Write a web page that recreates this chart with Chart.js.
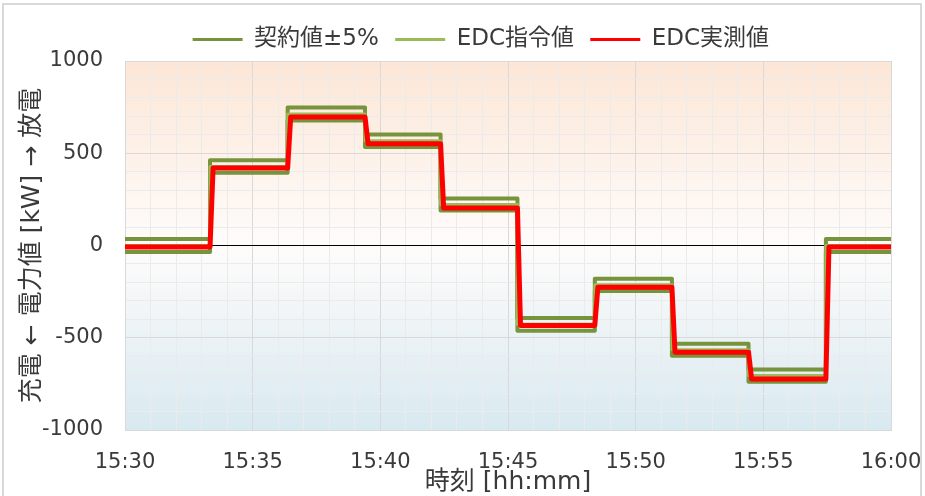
<!DOCTYPE html>
<html><head><meta charset="utf-8">
<script src="https://cdn.jsdelivr.net/npm/chart.js@4.4.0/dist/chart.umd.min.js"></script>
<style>html,body{margin:0;padding:0;background:#fff;} #wrap{width:925px;height:496px;position:relative;}</style>
</head><body><div id="wrap"><canvas id="c" width="925" height="496"></canvas></div>
<script>
// minutes after 15:30 at which each setpoint segment starts
const stepTimes = [0, 3.33, 6.37, 9.40, 12.36, 15.37, 18.40, 21.42, 24.42, 27.45];
const endTime = 30;
const commandValues  = [0, 428, 713, 568, 222, -427, -213, -565, -705, 0];
const contractUpper  = [35, 462, 748, 602, 255, -393, -180, -532, -672, 35];
const contractLower  = [-35, 394, 678, 534, 190, -462, -246, -598, -738, -35];
const measuredValues = [-8, 420, 697, 551, 203, -433, -226, -578, -724, -8];
const xTickLabels = ['15:30','15:35','15:40','15:45','15:50','15:55','16:00'];
const yTickLabels = ['-1000','-500','0','500','1000'];
const seriesNames = ['契約値±5%', 'EDC指令値', 'EDC実測値'];

const FONT = "'DejaVu Sans', 'Noto Sans CJK JP', sans-serif";
const TXT = '#3a3a3a';
const gridMinor = '#ebebeb', gridMajor = '#d9d9d9';

function stepPoints(vals){
  const pts = stepTimes.map((t,i)=>({x:t, y:vals[i]}));
  pts.push({x:endTime, y:vals[vals.length-1]});
  return pts;
}
function rampPoints(vals, ramp){
  const pts = [];
  vals.forEach((v,i)=>{
    const s = i===0 ? stepTimes[0] : stepTimes[i] + ramp;
    const e = i+1 < stepTimes.length ? stepTimes[i+1] : endTime;
    pts.push({x:s, y:v}); pts.push({x:e, y:v});
  });
  return pts;
}

const bgPlugin = {
  id:'bg',
  afterLayout(chart){
    if (chart.legend) { chart.legend.left += 18; chart.legend.right += 18; }
  },
  beforeDraw(chart){
    const {ctx, chartArea:a} = chart;
    ctx.save();
    ctx.fillStyle = '#fff'; ctx.fillRect(0,0,chart.width,chart.height);
    const g = ctx.createLinearGradient(0, a.top, 0, a.bottom);
    g.addColorStop(0, '#fce6d6'); g.addColorStop(0.5, '#fefcfb'); g.addColorStop(1, '#d8e9f0');
    ctx.fillStyle = g; ctx.fillRect(a.left, a.top, a.right-a.left, a.bottom-a.top);
    ctx.restore();
  },
  afterDraw(chart){
    const ctx = chart.ctx;
    ctx.save(); ctx.strokeStyle = '#d9d9d9'; ctx.lineWidth = 2;
    ctx.strokeRect(3, 4, 918, 520); ctx.restore();
  }
};

new Chart(document.getElementById('c'), {
  type:'line',
  data:{ datasets:[
    {label:seriesNames[0], data:stepPoints(contractUpper), stepped:true, borderColor:'#77933c', backgroundColor:'#77933c', borderWidth:4, order:2},
    {label:'lower', data:stepPoints(contractLower), stepped:true, borderColor:'#77933c', backgroundColor:'#77933c', borderWidth:4, order:2},
    {label:seriesNames[1], data:stepPoints(commandValues), stepped:true, borderColor:'#9bbb59', backgroundColor:'#9bbb59', borderWidth:3, order:1},
    {label:seriesNames[2], data:rampPoints(measuredValues, 0.12), borderColor:'#ff0000', backgroundColor:'#ff0000', borderWidth:5, order:0}
  ]},
  options:{
    responsive:false, animation:false,
    parsing:false,
    elements:{ point:{radius:0}, line:{fill:false, tension:0, borderJoinStyle:'round', borderCapStyle:'round'} },
    layout:{ padding:{ left:8, top:19, right:0, bottom:0 } },
    plugins:{
      tooltip:{enabled:false},
      legend:{
        position:'top',
        labels:{
          font:{family:FONT, size:23}, color:TXT, boxWidth:50, boxHeight:3, padding:9,
          filter:(item)=>item.datasetIndex!==1,
          sort:(a,b)=>a.datasetIndex-b.datasetIndex,
          generateLabels(chart){
            const items = Chart.defaults.plugins.legend.labels.generateLabels(chart);
            items.forEach(it=>{ it.lineWidth = 0; it.fillStyle = it.strokeStyle; it.text = it.text + ' '; });
            return items;
          }
        }
      }
    },
    scales:{
      x:{
        type:'linear', min:0, max:endTime,
        afterFit(s){ s.height = 66; s.paddingRight = 34; },
        ticks:{ stepSize:1, autoSkip:false, maxRotation:0, padding:20, color:TXT,
          font:{family:FONT, size:21},
          callback:(v)=> (Math.round(v)%5===0 ? xTickLabels[Math.round(v)/5] : '') },
        grid:{ drawTicks:false, color:(c)=> (c.tick && Math.round(c.tick.value)%5===0 ? gridMajor : gridMinor), lineWidth:1 },
        border:{ color:gridMajor },
        title:{ display:true, text:'時刻 [hh:mm]', color:TXT, font:{family:FONT, size:25}, padding:{top:0, bottom:-1} }
      },
      y:{
        type:'linear', min:-1000, max:1000,
        afterFit(s){ s.width = 117; },
        ticks:{ stepSize:100, autoSkip:false, padding:22, color:TXT, font:{family:FONT, size:21},
          callback:(v)=> (v%500===0 ? yTickLabels[(v+1000)/500] : '') },
        grid:{ drawTicks:false, color:(c)=> { const v = c.tick ? c.tick.value : 1; return v===0 ? '#000' : (v%500===0 ? gridMajor : gridMinor); }, lineWidth:1 },
        border:{ color:gridMajor },
        title:{ display:true, text:'充電 ← 電力値 [kW] → 放電', color:TXT, font:{family:FONT, size:25}, padding:{top:9, bottom:0} }
      }
    }
  },
  plugins:[bgPlugin]
});
</script>
</body></html>
